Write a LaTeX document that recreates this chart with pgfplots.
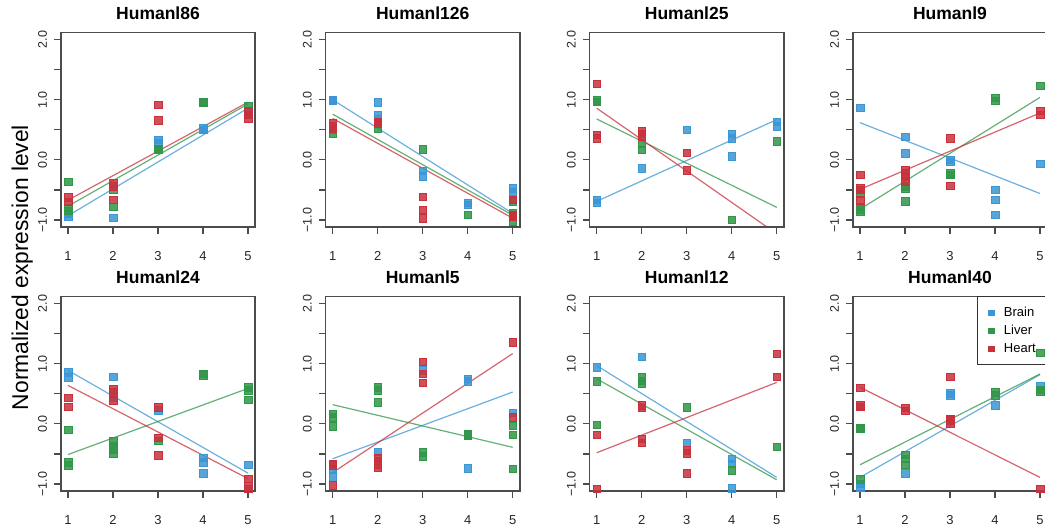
\documentclass[border=0pt]{standalone}
\usepackage{pgfplots}
\pgfplotsset{compat=1.18}
\usepackage{fontspec}
\setmainfont{Liberation Sans}
\definecolor{brainc}{RGB}{58,150,212}
\definecolor{liverc}{RGB}{48,150,72}
\definecolor{heartc}{RGB}{200,48,60}
\pgfplotsset{
  every axis title/.style={at={(0.5,1)}, anchor=base, yshift=12.8pt, font=\bfseries\fontsize{17.5}{17.5}\selectfont},
  panel/.style={
    scale only axis, width=194.4pt, height=194.4pt,
    xmin=0.84, xmax=5.16, ymin=-1.12, ymax=2.12,
    xtick={1,2,3,4,5}, xticklabels={1,2,3,4,5},
    ytick={-1,-0.5,0,0.5,1,1.5,2}, yticklabels={−1.0,,0.0,,1.0,,2.0},
    tick align=outside, tick pos=left, major tick length=6.5pt,
    tick style={black!70, line width=1.2pt},
    axis line style={black!70, line width=1.7pt},
    xticklabel style={font=\fontsize{13}{13}\selectfont, anchor=north, inner sep=0pt, text=black!85},
    yticklabel style={font=\fontsize{12.5}{12.5}\selectfont, rotate=90, anchor=south, inner sep=0pt, text=black!85},
    xticklabel shift=17.5pt, yticklabel shift=7pt,
    axis on top,
  },
  pts/.style={only marks, mark=square*, mark size=3.7pt, mark options={draw=none, fill opacity=0.85}, color=#1},
  fit/.style={no marks, color=#1, line width=1.2pt, opacity=0.75, forget plot},
}
\begin{document}
\begin{tikzpicture}[x=1pt,y=1pt]
\useasboundingbox (0,0) rectangle (1045,529);
\clip (0,0) rectangle (1045,529);
\node[rotate=90, anchor=base, font=\fontsize{22.8}{22.8}\selectfont] at (28,261.5) {Normalized expression level};

% Panel 1
\begin{axis}[panel, at={(60.8pt,301.8pt)}, anchor=south west, title={Humanl86}]
\addplot[pts=brainc] coordinates {(1,-0.94)(1,-0.90)(2,-0.96)(3,0.34)(3,0.28)(4,0.53)(4,0.50)(5,0.78)};
\addplot[pts=liverc] coordinates {(1,-0.36)(1,-0.80)(1,-0.85)(2,-0.50)(2,-0.78)(3,0.19)(3,0.17)(4,0.97)(4,0.96)(5,0.90)};
\addplot[pts=heartc] coordinates {(1,-0.62)(1,-0.70)(2,-0.39)(2,-0.44)(2,-0.66)(3,0.92)(3,0.66)(5,0.81)(5,0.69)(5,0.75)};
\addplot[fit=brainc] coordinates {(1,-0.93)(5,0.86)};
\addplot[fit=liverc] coordinates {(1,-0.77)(5,0.93)};
\addplot[fit=heartc] coordinates {(1,-0.67)(5,0.96)};
\end{axis}

% Panel 2
\begin{axis}[panel, at={(325.5pt,301.8pt)}, anchor=south west, title={Humanl126}]
\addplot[pts=brainc] coordinates {(1,1.0)(1,0.98)(2,0.96)(2,0.75)(2,0.69)(3,-0.18)(3,-0.27)(4,-0.71)(4,-0.75)(5,-0.47)(5,-0.53)};
\addplot[pts=liverc] coordinates {(1,0.44)(1,0.50)(2,0.53)(3,0.18)(4,-0.91)(5,-0.69)(5,-0.89)(5,-1.03)};
\addplot[pts=heartc] coordinates {(1,0.61)(1,0.57)(1,0.53)(2,0.64)(2,0.61)(3,-0.61)(3,-0.83)(3,-0.97)(5,-0.66)(5,-0.94)(5,-0.92)};
\addplot[fit=brainc] coordinates {(1,1.0)(5,-0.89)};
\addplot[fit=liverc] coordinates {(1,0.76)(5,-0.92)};
\addplot[fit=heartc] coordinates {(1,0.69)(5,-0.97)};
\end{axis}

% Panel 3
\begin{axis}[panel, at={(589.5pt,301.8pt)}, anchor=south west, title={Humanl25}]
\addplot[pts=brainc] coordinates {(1,-0.66)(1,-0.71)(2,-0.14)(3,0.50)(4,0.44)(4,0.36)(4,0.06)(5,0.64)(5,0.56)};
\addplot[pts=liverc] coordinates {(1,0.99)(1,0.97)(2,0.28)(2,0.17)(4,-1.0)(5,0.31)};
\addplot[pts=heartc] coordinates {(1,1.27)(1,0.42)(1,0.36)(2,0.48)(2,0.44)(2,0.39)(3,0.12)(3,-0.17)};
\addplot[fit=brainc] coordinates {(1,-0.69)(5,0.67)};
\addplot[fit=liverc] coordinates {(1,0.68)(5,-0.79)};
\addplot[fit=heartc] coordinates {(1,0.86)(5,-1.23)};
\end{axis}

% Panel 4
\begin{axis}[panel, at={(852.8pt,301.8pt)}, anchor=south west, title={Humanl9}]
\addplot[pts=brainc] coordinates {(1,0.87)(2,0.39)(2,0.11)(3,0.0)(3,-0.03)(4,-0.5)(4,-0.66)(4,-0.91)(5,-0.06)};
\addplot[pts=liverc] coordinates {(1,-0.56)(1,-0.78)(1,-0.86)(1,-0.82)(2,-0.44)(2,-0.47)(2,-0.69)(3,-0.22)(3,-0.25)(4,1.03)(4,0.98)(5,1.23)};
\addplot[pts=heartc] coordinates {(1,-0.25)(1,-0.47)(1,-0.5)(1,-0.67)(2,-0.17)(2,-0.22)(2,-0.28)(2,-0.36)(3,0.36)(3,-0.43)(5,0.82)(5,0.75)};
\addplot[fit=brainc] coordinates {(1,0.62)(5,-0.56)};
\addplot[fit=liverc] coordinates {(1,-0.82)(5,1.04)};
\addplot[fit=heartc] coordinates {(1,-0.49)(5,0.78)};
\end{axis}

% Panel 5
\begin{axis}[panel, at={(60.8pt,37.8pt)}, anchor=south west, title={Humanl24}]
\addplot[pts=brainc] coordinates {(1,0.86)(1,0.78)(2,0.79)(2,0.44)(3,0.23)(4,-0.56)(4,-0.64)(4,-0.82)(5,-0.68)};
\addplot[pts=liverc] coordinates {(1,-0.10)(1,-0.64)(1,-0.69)(2,-0.28)(2,-0.36)(2,-0.42)(2,-0.49)(3,-0.28)(4,0.83)(4,0.81)(5,0.61)(5,0.56)(5,0.40)};
\addplot[pts=heartc] coordinates {(1,0.44)(1,0.29)(2,0.58)(2,0.53)(2,0.39)(3,0.28)(3,-0.23)(3,-0.52)(5,-0.91)(5,-1.04)(5,-1.08)};
\addplot[fit=brainc] coordinates {(1,0.89)(5,-0.82)};
\addplot[fit=liverc] coordinates {(1,-0.51)(5,0.59)};
\addplot[fit=heartc] coordinates {(1,0.64)(5,-0.91)};
\end{axis}

% Panel 6
\begin{axis}[panel, at={(325.5pt,37.8pt)}, anchor=south west, title={Humanl5}]
\addplot[pts=brainc] coordinates {(1,-0.75)(1,-0.89)(2,-0.46)(3,0.89)(4,0.75)(4,0.71)(4,-0.74)(5,0.19)};
\addplot[pts=liverc] coordinates {(1,0.17)(1,0.11)(1,-0.04)(2,0.61)(2,0.56)(2,0.36)(3,-0.47)(3,-0.54)(4,-0.17)(4,-0.19)(5,-0.03)(5,-0.18)(5,-0.75)};
\addplot[pts=heartc] coordinates {(1,-0.66)(1,-0.69)(1,-1.02)(2,-0.56)(2,-0.61)(2,-0.67)(2,-0.73)(3,1.03)(3,0.83)(3,0.69)(5,1.36)(5,0.11)};
\addplot[fit=brainc] coordinates {(1,-0.58)(5,0.53)};
\addplot[fit=liverc] coordinates {(1,0.32)(5,-0.39)};
\addplot[fit=heartc] coordinates {(1,-0.81)(5,1.17)};
\end{axis}

% Panel 7
\begin{axis}[panel, at={(589.5pt,37.8pt)}, anchor=south west, title={Humanl12}]
\addplot[pts=brainc] coordinates {(1,0.94)(2,1.12)(3,-0.31)(4,-0.58)(4,-0.66)(4,-1.07)};
\addplot[pts=liverc] coordinates {(1,0.71)(1,-0.01)(2,0.78)(2,0.72)(2,0.67)(3,0.28)(4,-0.77)(5,-0.38)};
\addplot[pts=heartc] coordinates {(1,-0.18)(1,-1.08)(2,0.31)(2,0.27)(2,-0.25)(2,-0.31)(3,-0.44)(3,-0.49)(3,-0.82)(5,1.17)(5,0.79)};
\addplot[fit=brainc] coordinates {(1,0.97)(5,-0.89)};
\addplot[fit=liverc] coordinates {(1,0.75)(5,-0.93)};
\addplot[fit=heartc] coordinates {(1,-0.48)(5,0.69)};
\end{axis}

% Panel 8
\begin{axis}[panel, at={(852.8pt,37.8pt)}, anchor=south west, title={Humanl40},
  legend style={at={(1,1)}, anchor=north east, fill=none, draw=black!80, line width=0.9pt,
    inner xsep=11pt, inner ysep=10pt, row sep=6pt,
    font=\fontsize{13}{13}\selectfont,
    nodes={inner sep=0pt, text height=9.5pt, text depth=2.5pt},
    /tikz/every odd column/.append style={column sep=9pt}},
  legend cell align=left,
  legend image code/.code={\fill[#1] (-2.8pt,-2.8pt) rectangle (2.8pt,2.8pt);}]
\addplot[pts=brainc] coordinates {(1,-1.0)(1,-1.06)(2,-0.82)(3,0.51)(3,0.48)(4,0.31)(5,0.64)};
\addlegendentry{Brain}
\addplot[pts=liverc] coordinates {(1,-0.06)(1,-0.08)(1,-0.92)(2,-0.51)(2,-0.58)(2,-0.68)(4,0.53)(4,0.48)(5,1.18)(5,0.57)(5,0.54)};
\addlegendentry{Liver}
\addplot[pts=heartc] coordinates {(1,0.60)(1,0.31)(1,0.29)(2,0.27)(2,0.22)(3,0.79)(3,0.08)(3,0.06)(3,0.0)(5,-1.08)};
\addlegendentry{Heart}
\addplot[fit=brainc] coordinates {(1,-0.89)(5,0.82)};
\addplot[fit=liverc] coordinates {(1,-0.68)(5,0.83)};
\addplot[fit=heartc] coordinates {(1,0.61)(5,-0.89)};
\end{axis}
\end{tikzpicture}
\end{document}
